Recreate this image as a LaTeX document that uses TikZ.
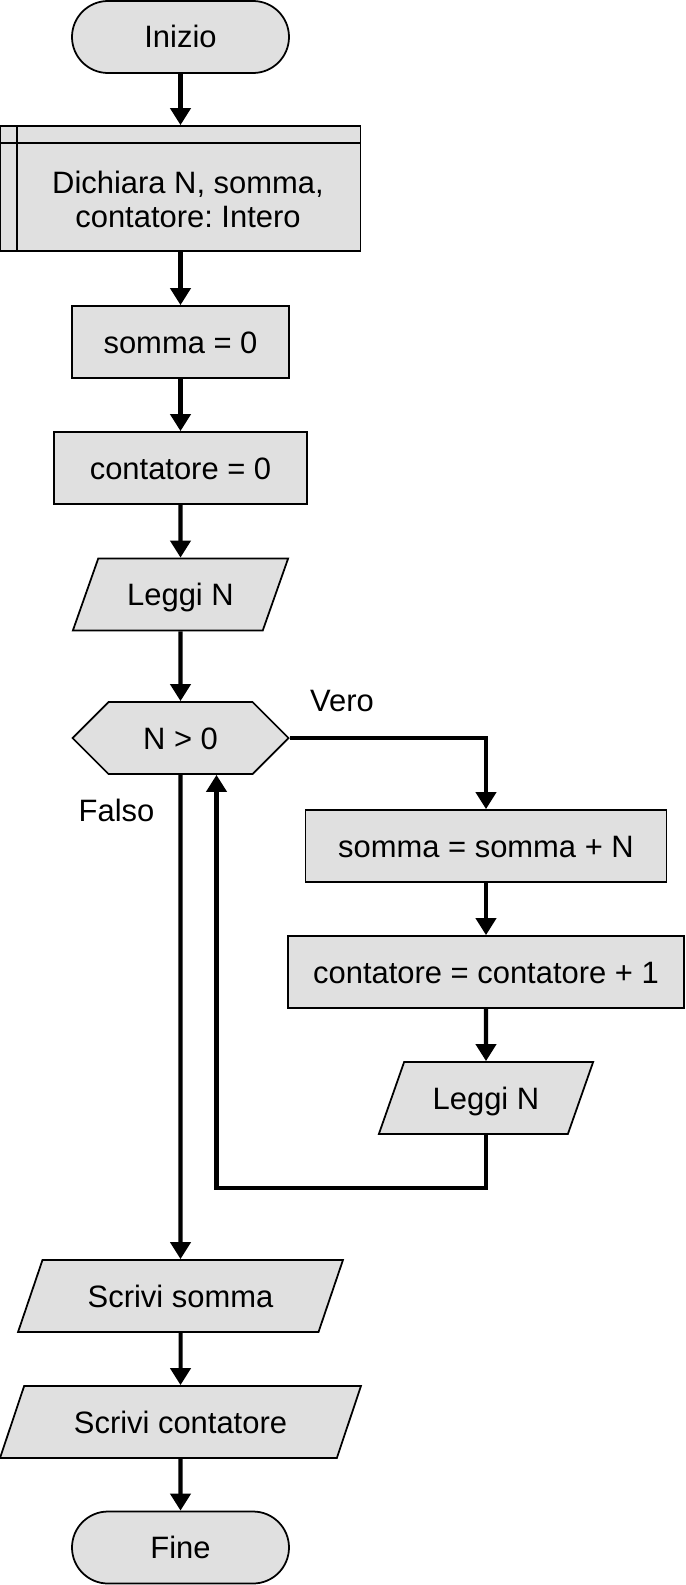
\documentclass[tikz,border=0pt]{standalone}
\usepackage{fontspec}
\setmainfont{Liberation Sans}
\frenchspacing
\usetikzlibrary{arrows.meta,shapes.geometric,shapes.symbols}
\definecolor{boxgray}{RGB}{224,224,224}
\begin{document}
\begin{tikzpicture}[
    >={Triangle[width=0.4cm,length=0.34cm]},
    every node/.style={font=\fontsize{17.6}{19}\selectfont},
    shp/.style={draw, fill=boxgray, line width=1pt, minimum height=1.44cm,
        text height=0.44cm, text depth=0cm},
    term/.style={shp, rounded corners=0.72cm, minimum width=4.34cm},
    proc/.style={shp, rectangle},
    iobox/.style={shp, trapezium, trapezium left angle=64, trapezium right angle=116,
        trapezium stretches=true, inner xsep=0pt},
    cond/.style={shp, signal, signal to=west and east, signal pointer angle=90},
    flow/.style={->, line width=2.3pt}
]
    \useasboundingbox (0,0) rectangle (13.7,-31.7);

    \node[term] (start) at (3.61,-0.74) {Inizio};
    \node[proc, minimum width=7.2cm, minimum height=2.5cm] (decl) at (3.61,-3.77) {};
    \draw[line width=1pt] ([xshift=0.34cm]decl.north west) -- ([xshift=0.34cm]decl.south west);
    \draw[line width=1pt] ([yshift=-0.36cm]decl.north west) -- ([yshift=-0.36cm]decl.north east);
    \node[align=center, font=\fontsize{17.6}{19.6}\selectfont] (decltext) at (3.76,-3.99)
        {Dichiara N, somma,\\ contatore: Intero};

    \node[proc, minimum width=4.34cm] (sinit) at (3.61,-6.84) {somma = 0};
    \node[proc, minimum width=5.06cm] (cinit) at (3.61,-9.36) {contatore = 0};
    \node[iobox, minimum width=4.34cm] (read1) at (3.61,-11.89) {Leggi N};
    \node[cond, minimum width=4.32cm] (test) at (3.61,-14.76) {N > 0};

    \node[proc, minimum width=7.22cm] (sadd) at (9.72,-16.92) {somma = somma + N};
    \node[proc, minimum width=7.92cm] (cadd) at (9.72,-19.44) {contatore = contatore + 1};
    \node[iobox, minimum width=4.32cm] (read2) at (9.72,-21.96) {Leggi N};

    \node[iobox, minimum width=6.5cm] (out1) at (3.61,-25.92) {Scrivi somma};
    \node[iobox, minimum width=7.22cm] (out2) at (3.61,-28.44) {Scrivi contatore};
    \node[term] (stop) at (3.61,-30.95) {Fine};

    \node (vero) at (6.84,-14.02) {Vero};
    \node (falso) at (2.33,-16.2) {Falso};

    \draw[flow] (start) -- (decl);
    \draw[flow] (decl) -- (sinit);
    \draw[flow] (sinit) -- (cinit);
    \draw[flow] (cinit) -- (read1);
    \draw[flow] (read1) -- (test);
    \draw[flow] (test.east) -| (sadd.north);
    \draw[flow] (sadd) -- (cadd);
    \draw[flow] (cadd) -- (read2);
    \draw[flow] (read2.south) -- ++(0,-1.06) -| ([xshift=0.72cm]test.south);
    \draw[flow] (test.south) -- (out1.north);
    \draw[flow] (out1) -- (out2);
    \draw[flow] (out2) -- (stop);
\end{tikzpicture}
\end{document}
